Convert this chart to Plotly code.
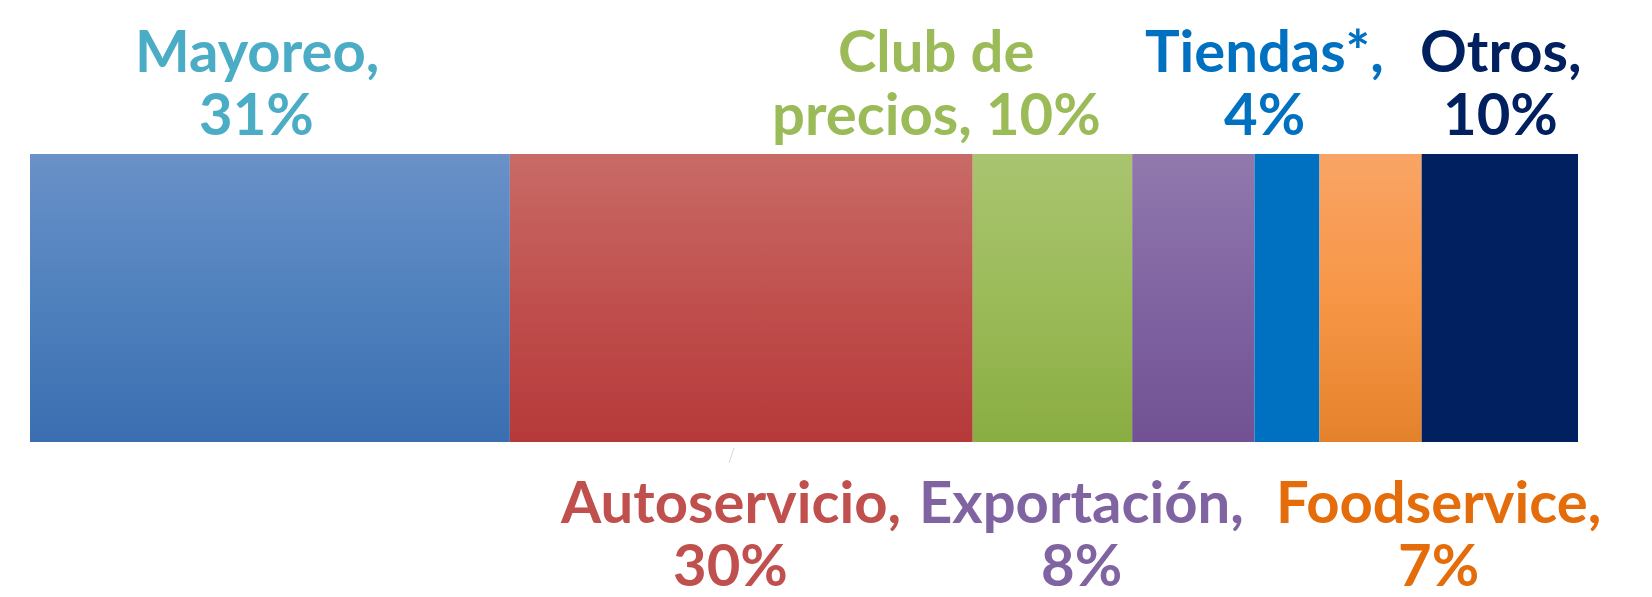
import plotly.graph_objects as go

# ---- data ----
categories = ["Mayoreo", "Autoservicio", "Club de precios", "Exportación", "Tiendas*", "Foodservice", "Otros"]
shares = [31.0, 29.9, 10.3, 7.9, 4.2, 6.6, 10.1]
label_line1 = ["Mayoreo,", "Autoservicio,", "Club de", "Exportación,", "Tiendas*,", "Foodservice,", "Otros,"]
label_line2 = ["31%", "30%", "precios, 10%", "8%", "4%", "7%", "10%"]

# ---- styles ----
grad_colors = [
    ["#6A91C8", "#4F81BD", "#3B6EB1"],
    ["#C86B67", "#C0504D", "#B6393A"],
    ["#A9C470", "#9BBB59", "#8AAD42"],
    ["#9179AD", "#8064A2", "#715193"],
    ["#0070C0", "#0070C0", "#0070C0"],
    ["#F9A466", "#F79646", "#E4822C"],
    ["#002060", "#002060", "#002060"],
]
text_colors = ["#4BACC6", "#C0504D", "#9BBB59", "#8064A2", "#0070C0", "#E46C0A", "#002060"]
label_side = ["top", "bottom", "top", "bottom", "top", "bottom", "top"]
label_xshift = [-13, -11, -116, -112, -22, 68, 1]

BAR_TOP, BAR_BOT = 154, 442
FONT = "Lato"
FSIZE = 58

fig = go.Figure()
left = 0.0
centers = []
for i, (cat, v) in enumerate(zip(categories, shares)):
    a, b = left, left + v
    c = grad_colors[i]
    fig.add_trace(go.Scatter(
        x=[a, b, b, a, a], y=[BAR_TOP, BAR_TOP, BAR_BOT, BAR_BOT, BAR_TOP],
        mode="lines", line=dict(width=0), fill="toself",
        fillgradient=dict(type="vertical", start=BAR_TOP, stop=BAR_BOT,
                          colorscale=[[0, c[0]], [0.5, c[1]], [1, c[2]]]),
        hoverinfo="skip", showlegend=False, name=cat))
    centers.append((a + b) / 2)
    left = b

annotations = []
for i in range(len(categories)):
    if label_side[i] == "top":
        y1, y2 = 72, 135
    else:
        y1, y2 = 523, 586
    for txt, yb in ((label_line1[i], y1), (label_line2[i], y2)):
        annotations.append(dict(
            x=centers[i], y=yb, xref="x", yref="y", xshift=label_xshift[i],
            text=f"<b>{txt}</b>", showarrow=False, xanchor="center", yanchor="bottom",
            yshift=-14,
            font=dict(family=FONT, size=FSIZE, color=text_colors[i])))

fig.update_layout(
    width=1652, height=597,
    margin=dict(l=30, r=74, t=0, b=0),
    paper_bgcolor="white", plot_bgcolor="white",
    xaxis=dict(range=[0, sum(shares)], visible=False, fixedrange=True),
    yaxis=dict(range=[597, 0], visible=False, fixedrange=True),
    annotations=annotations,
    shapes=[dict(type="line", xref="paper", yref="y", x0=(734 - 30) / 1548, x1=(729 - 30) / 1548,
                 y0=448, y1=463, line=dict(color="#D9D9D9", width=1))],
)

fig.write_html("out.html", config={"displayModeBar": False},
               post_script="document.body.style.margin='0';document.body.style.overflow='hidden';")
